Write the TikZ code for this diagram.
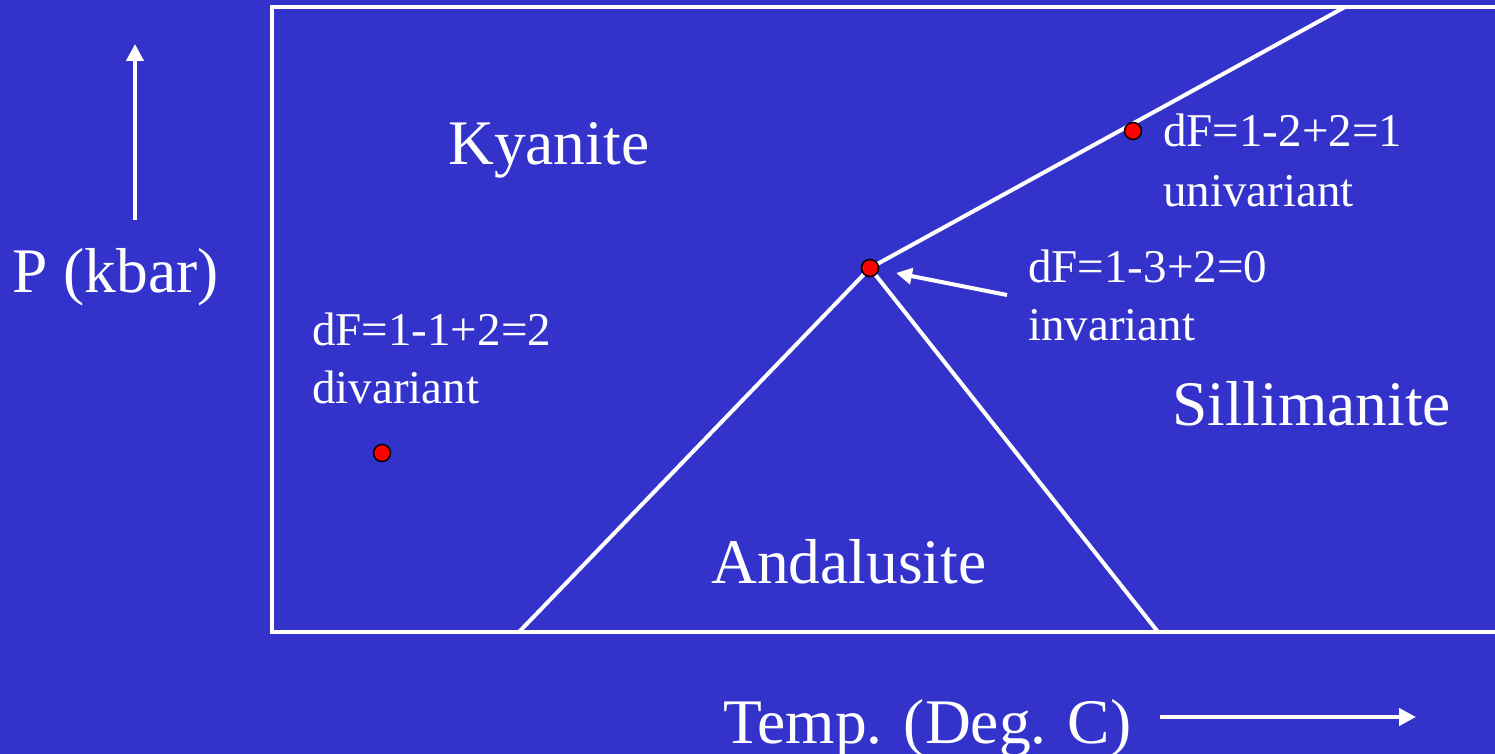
\documentclass[tikz,border=0pt]{standalone}
\usepackage{fontspec}
\setmainfont{Liberation Serif}
\usetikzlibrary{arrows.meta}
\definecolor{bgblue}{HTML}{3333CC}
\begin{document}
\begin{tikzpicture}[x=1pt,y=-1pt,
  big/.style={text=white,inner sep=0pt,anchor=base west,font=\fontsize{63.5}{63}\selectfont},
  small/.style={text=white,inner sep=0pt,anchor=base west,font=\fontsize{47}{60}\selectfont},
  phase/.style={draw=white,line width=4pt},
  dot/.style={circle,fill=red,draw=black,line width=1.5pt,minimum size=17pt,inner sep=0pt},
  warrow/.style={draw=white,line width=4pt,-{Triangle[length=17pt,width=17pt]}}]
\fill[bgblue] (0,0) rectangle (1495,754);
\useasboundingbox (0,0) rectangle (1495,754);
\begin{scope}
\clip (0,0) rectangle (1495,754);
\draw[phase] (272,7) rectangle (1510,632);
\end{scope}
\node[dot] (tp) at (870,268) {};
\coordinate (topend) at (1345,7);
\coordinate (leftend) at (519,632);
\coordinate (rightend) at (1158,632);
\draw[phase] (tp.center) -- (topend);
\draw[phase] (tp.center) -- (leftend);
\draw[phase] (tp.center) -- (rightend);
\node[dot] (tp) at (870,268) {};
\node[dot] (uni) at (1133,131) {};
\node[dot] (di) at (382,453) {};
\node[big] (kya) at (448,165) {Kyanite};
\node[big] (sil) at (1172,425) {Sillimanite};
\node[big] (and) at (711,583) {Andalusite};
\node[big] (pk) at (12,292) {P (kbar)};
\node[big] (tmp) at (723,743) {Temp. (Deg. C)};
\node[small] (l1) at (1163,147) {dF=1-2+2=1};
\node[small] (l1b) at (1163,207) {univariant};
\node[small] (l0) at (1028,282) {dF=1-3+2=0};
\node[small] (l0b) at (1028,340) {invariant};
\node[small] (l2) at (312,345) {dF=1-1+2=2};
\node[small] (l2b) at (312,403) {divariant};
\coordinate (arrs) at (1007,295);
\coordinate (arrt) at (896,273);
\draw[warrow,-{Triangle[length=16pt,width=16pt]}] (arrs) -- (arrt);
\coordinate (ps) at (135,220);
\coordinate (pt) at (135,44);
\draw[warrow] (ps) -- (pt);
\coordinate (ts) at (1160,717);
\coordinate (tt) at (1416,717);
\draw[warrow] (ts) -- (tt);
\end{tikzpicture}
\end{document}
